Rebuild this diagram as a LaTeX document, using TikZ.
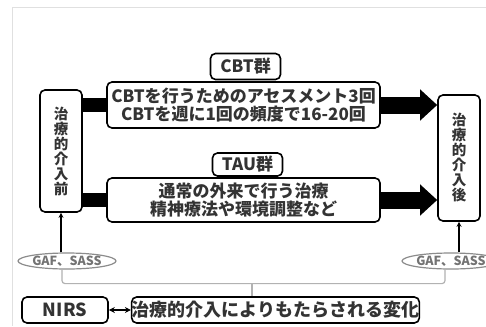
\documentclass[tikz,border=0pt]{standalone}
\usepackage{fontspec}
\setmainfont{Noto Sans CJK JP}
\usetikzlibrary{arrows.meta,shapes.geometric}
\begin{document}
\begin{tikzpicture}[x=1pt,y=-1pt,
  box/.style={draw=black, line width=1.6pt, rounded corners=5pt, fill=white, inner sep=0pt,
    align=center, text=black!80, font=\bfseries\fontsize{17}{18.5}\selectfont},
  vbox/.style={box, minimum width=42pt, font=\bfseries\fontsize{14.5}{15}\selectfont},
  lbl/.style={box, minimum width=70pt, minimum height=25pt, font=\bfseries\fontsize{17}{17}\selectfont},
  gaf/.style={draw=black!45, line width=1.2pt, ellipse, minimum width=90pt, minimum height=16pt,
    inner sep=0pt, text=black!55, font=\bfseries\fontsize{12.5}{12.5}\selectfont},
  bar/.style={line width=14pt},
  bigarrow/.style={line width=17pt, -{Triangle[length=17pt,width=30pt]}},
  uparrow/.style={line width=1.3pt, -{Stealth[length=5pt,width=5pt]}},
  bracket/.style={draw=black!30, line width=1.2pt}
]
\useasboundingbox (0,0) rectangle (486,326);
\fill[white] (0,0) rectangle (486,326);
\draw[black!12, line width=1pt] (12,326) -- (12,8) -- (486,8);

\node[vbox, minimum height=122pt] (pre) at (61,151) {治\\療\\的\\介\\入\\前};
\node[vbox, minimum height=126pt] (post) at (459,158) {治\\療\\的\\介\\入\\後};

\node[box, minimum width=273pt, minimum height=46pt] (cbt) at (243.5,105)
  {CBTを行うためのアセスメント3回\\CBTを週に1回の頻度で16-20回};
\node[box, minimum width=273pt, minimum height=44pt] (tau) at (243.5,200)
  {通常の外来で行う治療\\精神療法や環境調整など};
\node[lbl, minimum height=26pt] (cbtl) at (245.5,66.5) {CBT群};
\node[lbl, minimum height=23pt] (taul) at (247.5,164.5) {TAU群};

\draw[bar] (pre.east |- cbt.west) -- (cbt.west);
\draw[bar] (pre.east |- tau.west) -- (tau.west);
\draw[bigarrow] (cbt.east) -- (post.west |- cbt.east);
\draw[bigarrow] (tau.east) -- (post.west |- tau.east);

\node[gaf] (gafl) at (67,261) {GAF、SASS};
\node[gaf] (gafr) at (451,261) {GAF、SASS};
\draw[uparrow] (pre.south |- gafl.north) -- (pre.south);
\draw[uparrow] (post.south |- gafr.north) -- (post.south);

\node[box, minimum width=86pt, minimum height=26pt, font=\bfseries\fontsize{18}{18}\selectfont] (nirs) at (65,310) {NIRS};
\node[box, minimum width=285pt, minimum height=26pt, font=\bfseries\fontsize{18}{18}\selectfont] (chg) at (275.5,310) {治療的介入によりもたらされる変化};

\draw[bracket, rounded corners=3pt] ([xshift=-5pt]gafl.south) -- ++(0,14) -| ([xshift=-6pt]gafr.south);
\coordinate (tk) at (252,283);
\draw[bracket] (tk) -- (tk |- chg.north);
\draw[line width=1.8pt, {Stealth[length=6pt,width=6pt]}-{Stealth[length=6pt,width=6pt]}] (nirs) -- (chg);
\end{tikzpicture}
\end{document}
